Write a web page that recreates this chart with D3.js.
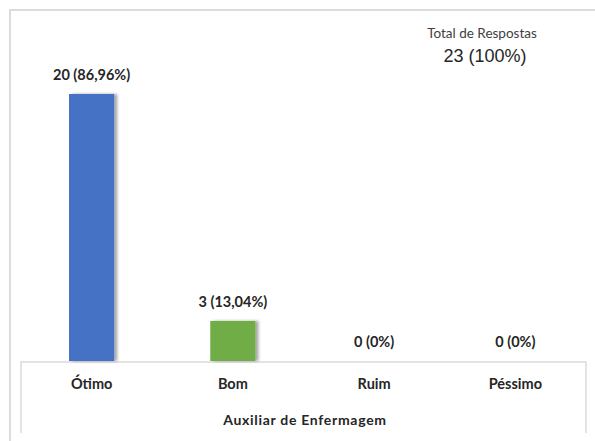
<!DOCTYPE html>
<html><head><meta charset="utf-8">
<script src="https://cdn.jsdelivr.net/npm/d3@7"></script>
<style>html,body{margin:0;padding:0;background:#fff;}svg{display:block;}</style>
</head><body>
<svg id="chart" width="595" height="441"></svg>
<script>
const categories = ["Ótimo", "Bom", "Ruim", "Péssimo"];
const values = [20, 3, 0, 0];
const labels = ["20 (86,96%)", "3 (13,04%)", "0 (0%)", "0 (0%)"];
const colors = ["#4472C4", "#70AD47", "#A5A5A5", "#FFC000"];
const axisTitle = "Auxiliar de Enfermagem";
const totalTitle = "Total de Respostas";
const totalValue = "23 (100%)";

const svg = d3.select("#chart");
const W = 595, H = 441;
const x = d3.scaleBand().domain(categories).range([21, 586]).padding(0);
const y = d3.scaleLinear().domain([0, 20]).range([361, 94]);
const barW = x.bandwidth() * 0.32;

const defs = svg.append("defs");
const f = defs.append("filter").attr("id", "sh").attr("x", "-20%").attr("y", "-5%").attr("width", "160%").attr("height", "110%");
f.append("feGaussianBlur").attr("in", "SourceAlpha").attr("stdDeviation", 1.5).attr("result", "b");
f.append("feOffset").attr("in", "b").attr("dx", 3).attr("dy", 0).attr("result", "o");
f.append("feComponentTransfer").attr("in", "o").attr("result", "o2")
  .append("feFuncA").attr("type", "linear").attr("slope", 0.35);
const m = f.append("feMerge");
m.append("feMergeNode").attr("in", "o2");
m.append("feMergeNode").attr("in", "SourceGraphic");

// outer frame
const lineC = "#dcdcdc";
svg.append("path").attr("d", `M10,${H} V10 H${W}`).attr("fill", "none").attr("stroke", lineC).attr("stroke-width", 2);
// inner axis box
svg.append("path").attr("d", `M21,433 V362 H586 V433`).attr("fill", "none").attr("stroke", lineC).attr("stroke-width", 1.5);

// bars
svg.selectAll("rect.bar").data(categories).enter().append("rect")
  .attr("class", "bar")
  .attr("x", d => x(d) + x.bandwidth() / 2 - barW / 2)
  .attr("width", barW)
  .attr("y", (d, i) => y(values[i]))
  .attr("height", (d, i) => y(0) - y(values[i]))
  .attr("fill", (d, i) => colors[i])
  .attr("filter", "url(#sh)");

// data labels
svg.selectAll("text.dl").data(categories).enter().append("text")
  .attr("class", "dl")
  .attr("x", d => x(d) + x.bandwidth() / 2)
  .attr("y", (d, i) => y(values[i]) - 14)
  .attr("text-anchor", "middle")
  .attr("font-family", "Lato, sans-serif").attr("font-weight", "bold").attr("font-size", 14.5)
  .attr("fill", "#262626")
  .text((d, i) => labels[i]);

// category axis labels
const xAxis = d3.axisBottom(x).tickSize(0).tickPadding(0);
const gx = svg.append("g").attr("transform", "translate(0,379)").call(xAxis);
gx.select(".domain").remove();
gx.selectAll("text").attr("dy", "0.71em")
  .attr("font-family", "Lato, sans-serif").attr("font-weight", "bold").attr("font-size", 14.5)
  .attr("fill", "#262626");

svg.append("text").attr("x", 305).attr("y", 425).attr("text-anchor", "middle")
  .attr("font-family", "Lato, sans-serif").attr("font-weight", "bold").attr("font-size", 14)
  .attr("letter-spacing", 0.7)
  .attr("fill", "#262626").text(axisTitle);

svg.append("text").attr("x", 482).attr("y", 38).attr("text-anchor", "middle")
  .attr("font-family", "Lato, sans-serif").attr("font-size", 13.5)
  .attr("fill", "#404040").text(totalTitle);
svg.append("text").attr("x", 485).attr("y", 62).attr("text-anchor", "middle")
  .attr("font-family", "Liberation Sans, Arial, sans-serif").attr("font-size", 18)
  .attr("fill", "#262626").text(totalValue);
</script>
</body></html>
